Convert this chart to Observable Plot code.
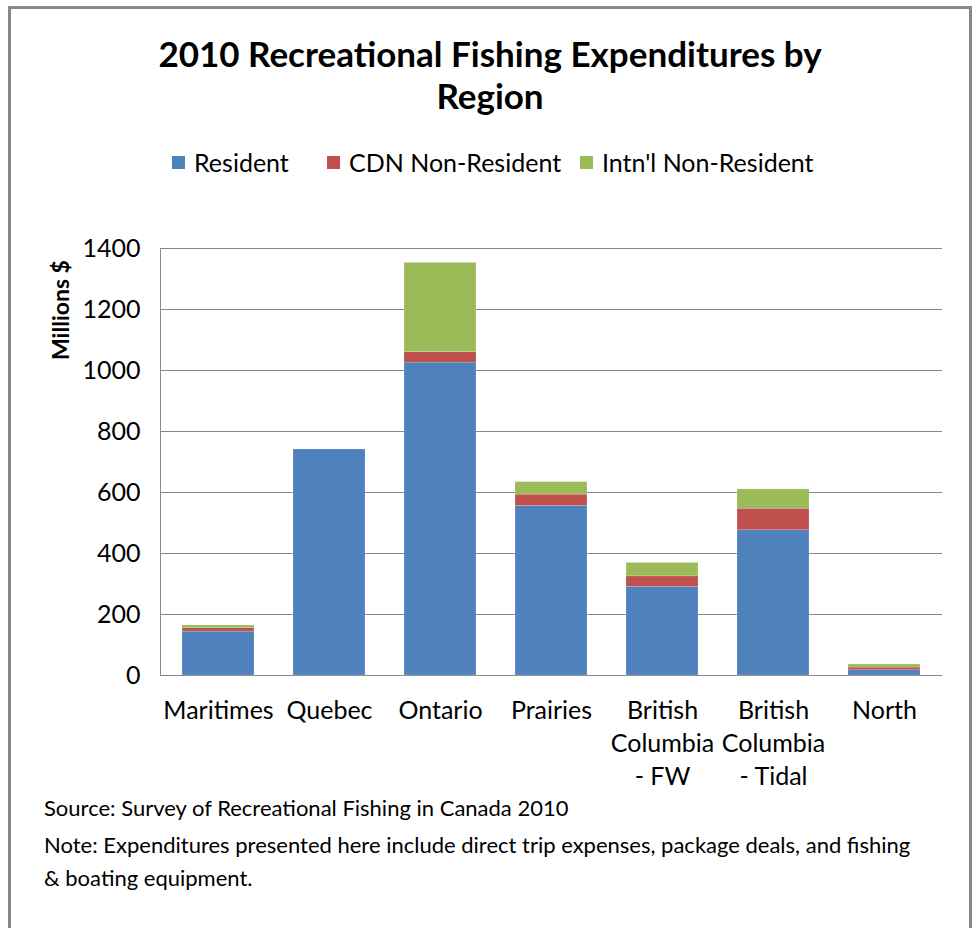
<!DOCTYPE html>
<html>
<head>
<meta charset="utf-8">
<script src="https://cdn.jsdelivr.net/npm/d3@7"></script>
<script src="https://cdn.jsdelivr.net/npm/@observablehq/plot@0.6"></script>
<style>
  html, body { margin: 0; padding: 0; background: #fff; }
  #frame { position: absolute; left: 8px; top: 6px; width: 964px; height: 940px; border: 3px solid #888; box-sizing: border-box; }
  .t { position: absolute; font-family: Lato, "Open Sans", sans-serif; color: #000; white-space: nowrap; }
  #title { left: 0; width: 980px; top: 32px; text-align: center; font-size: 35px; font-weight: bold; line-height: 42px; }
  #ylab { left: 60px; top: 310px; font-size: 23px; font-weight: bold; transform: translate(-50%, -50%) rotate(-90deg); }
  .leg { top: 147px; font-size: 25px; line-height: 30px; }
  .sw { display: inline-block; width: 13px; height: 13px; position: absolute; left: 0; top: 9px; }
  .cap { left: 44px; font-size: 22px; }
  #plot { position: absolute; left: 0; top: 200px; }
</style>
</head>
<body>
<div id="frame"></div>
<div class="t" id="title">2010 Recreational Fishing Expenditures by<br>Region</div>
<div id="legend"></div>
<div class="t" id="ylab">Millions $</div>
<div id="plot"></div>
<div class="t cap" style="top:794px">Source: Survey of Recreational Fishing in Canada 2010</div>
<div class="t cap" style="top:831px">Note: Expenditures presented here include direct trip expenses, package deals, and fishing</div>
<div class="t cap" style="top:864px">&amp; boating equipment.</div>
<script>
const regions = ["Maritimes", "Quebec", "Ontario", "Prairies", "British Columbia - FW", "British Columbia - Tidal", "North"];
const regionLabels = ["Maritimes", "Quebec", "Ontario", "Prairies", "British\nColumbia\n- FW", "British\nColumbia\n- Tidal", "North"];
const series = ["Resident", "CDN Non-Resident", "Intn'l Non-Resident"];
const colors = ["#4F81BD", "#C0504D", "#9BBB59"];
const resident = [144, 741, 1026, 556, 291, 476, 17];
const cdnNonResident = [11, 0, 34, 37, 34, 71, 9];
const intlNonResident = [9, 0, 293, 41, 44, 63, 10];
const yTicks = [0, 200, 400, 600, 800, 1000, 1200, 1400];

const legendSwatchX = [172, 327, 580];
const legend = document.getElementById("legend");
series.forEach((s, i) => {
  const d = document.createElement("div");
  d.className = "t leg";
  d.style.left = legendSwatchX[i] + "px";
  d.style.paddingLeft = "22px";
  d.innerHTML = `<span class="sw" style="background:${colors[i]}"></span>`;
  d.appendChild(document.createTextNode(s));
  legend.appendChild(d);
});

const values = [resident, cdnNonResident, intlNonResident];
const data = [];
series.forEach((s, si) => regions.forEach((r, ri) => data.push({region: r, series: s, value: values[si][ri]})));

const chart = Plot.plot({
  width: 975,
  height: 600,
  marginLeft: 160,
  marginRight: 33,
  marginTop: 48,
  marginBottom: 125,
  style: {fontFamily: "Lato, 'Open Sans', sans-serif", fontSize: "25px", color: "#000", background: "transparent"},
  x: {domain: regions, paddingInner: 0.353, paddingOuter: 0.1765, label: null},
  y: {domain: [0, 1400], label: null},
  color: {domain: series, range: colors},
  marks: [
    Plot.gridY(yTicks, {stroke: "#888", strokeOpacity: 1, strokeWidth: 1}),
    Plot.frame({anchor: "left", stroke: "#888", strokeWidth: 1}),
    Plot.barY(data, Plot.stackY({x: "region", y: "value", fill: "series", order: series, stroke: "#fff", strokeOpacity: 0.35, strokeWidth: 0.5})),
    Plot.axisY({ticks: yTicks, tickSize: 0, tickPadding: 20, fontSize: 25, tickFormat: d => String(d)}),
    Plot.axisX({tickSize: 0, tickPadding: 20, fontSize: 25, lineHeight: 1.32, tickFormat: d => regionLabels[regions.indexOf(d)]})
  ]
});
document.getElementById("plot").appendChild(chart);
</script>
</body>
</html>
